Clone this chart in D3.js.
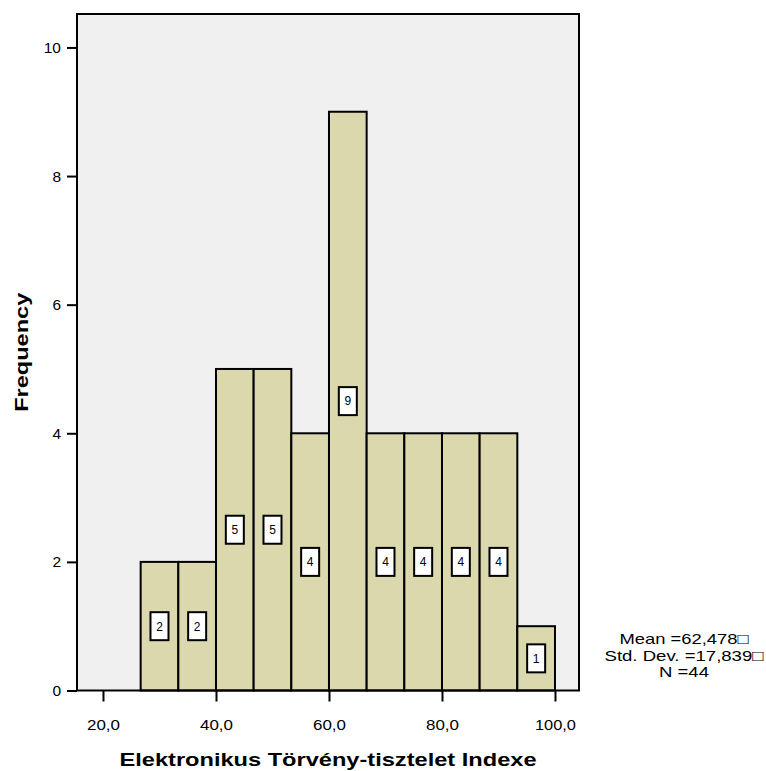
<!DOCTYPE html>
<html>
<head>
<meta charset="utf-8">
<script src="https://cdn.jsdelivr.net/npm/d3@7"></script>
<style>
  body { margin: 0; background: #fff; }
  text { font-family: "Liberation Sans", Arial, sans-serif; }
</style>
</head>
<body>
<svg id="chart" width="766" height="771"></svg>
<script>
const width = 766, height = 771;
const svg = d3.select("#chart");

// data
const binStarts = [26.667, 33.333, 40, 46.667, 53.333, 60, 66.667, 73.333, 80, 86.667, 93.333];
const binWidth = 20 / 3;
const counts = [2, 2, 5, 5, 4, 9, 4, 4, 4, 4, 1];
const xTicks = [20, 40, 60, 80, 100];
const yTicks = [0, 2, 4, 6, 8, 10];
const statLines = ["Mean =62,478\u25A1", "Std. Dev. =17,839\u25A1", "N =44"];

const margin = { left: 77, right: 579, top: 14, bottom: 690.5 };

const x = d3.scaleLinear().domain([15.4, 104.25]).range([margin.left, margin.right]);
const y = d3.scaleLinear().domain([0, 10.52]).range([margin.bottom, margin.top]);

// plot background
svg.append("rect")
  .attr("x", margin.left).attr("y", margin.top)
  .attr("width", margin.right - margin.left).attr("height", margin.bottom - margin.top)
  .attr("fill", "#f0f0f0");

// bars
const bars = svg.append("g");
bars.selectAll("rect")
  .data(counts)
  .join("rect")
    .attr("x", (d, i) => x(binStarts[i]))
    .attr("width", (d, i) => x(binStarts[i] + binWidth) - x(binStarts[i]))
    .attr("y", d => y(d))
    .attr("height", d => y(0) - y(d))
    .attr("fill", "#dbd8ae")
    .attr("stroke", "#000")
    .attr("stroke-width", 2);

// count labels
const lab = svg.append("g").selectAll("g")
  .data(counts)
  .join("g")
    .attr("transform", (d, i) => `translate(${x(binStarts[i] + binWidth / 2)},${y(d / 2)})`);
lab.append("rect")
  .attr("x", -9).attr("y", -14).attr("width", 18).attr("height", 28)
  .attr("fill", "#fff").attr("stroke", "#000").attr("stroke-width", 2);
lab.append("text")
  .attr("text-anchor", "middle").attr("dy", "0.36em")
  .attr("font-size", 12)
  .text(d => d);

// frame
svg.append("rect")
  .attr("x", margin.left).attr("y", margin.top)
  .attr("width", margin.right - margin.left).attr("height", margin.bottom - margin.top)
  .attr("fill", "none").attr("stroke", "#000").attr("stroke-width", 2);

// axes
const xAxis = svg.append("g")
  .attr("transform", `translate(0,${margin.bottom})`)
  .call(d3.axisBottom(x).tickValues(xTicks).tickSize(11).tickPadding(17)
    .tickFormat(d => d3.format(".1f")(d).replace(".", ",")));
xAxis.select(".domain").remove();
xAxis.selectAll("line").attr("stroke-width", 2);
xAxis.selectAll("text").attr("font-size", 15.5).attr("font-family", "Liberation Sans, Arial, sans-serif")
  .attr("textLength", d => d >= 100 ? 41 : 33).attr("lengthAdjust", "spacingAndGlyphs");

const yAxis = svg.append("g")
  .attr("transform", `translate(${margin.left},0)`)
  .call(d3.axisLeft(y).tickValues(yTicks).tickSize(10).tickPadding(6));
yAxis.select(".domain").remove();
yAxis.selectAll("line").attr("stroke-width", 2);
yAxis.selectAll("text").attr("font-size", 15.5).attr("font-family", "Liberation Sans, Arial, sans-serif");

// titles
svg.append("text")
  .attr("x", (margin.left + margin.right) / 2).attr("y", 766)
  .attr("text-anchor", "middle")
  .attr("font-size", 19).attr("font-weight", "bold")
  .attr("textLength", 417).attr("lengthAdjust", "spacingAndGlyphs")
  .text("Elektronikus Törvény-tisztelet Indexe");

svg.append("text")
  .attr("transform", `translate(28,${(margin.top + margin.bottom) / 2}) rotate(-90)`)
  .attr("text-anchor", "middle")
  .attr("font-size", 19).attr("font-weight", "bold")
  .attr("textLength", 119).attr("lengthAdjust", "spacingAndGlyphs")
  .text("Frequency");

// stats box
const statWidths = [129, 159, 50];
svg.append("g").selectAll("text")
  .data(statLines)
  .join("text")
    .attr("x", 684)
    .attr("y", (d, i) => 644 + i * 16.5)
    .attr("text-anchor", "middle")
    .attr("font-size", 15)
    .attr("textLength", (d, i) => statWidths[i]).attr("lengthAdjust", "spacingAndGlyphs")
    .text(d => d);
</script>
</body>
</html>
